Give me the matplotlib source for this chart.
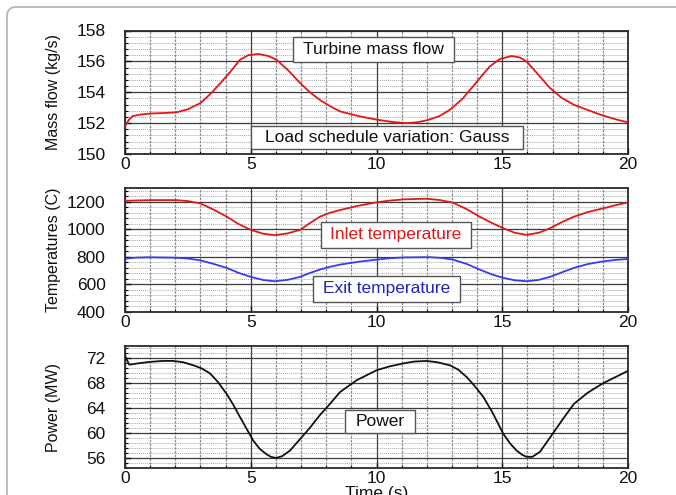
import matplotlib
matplotlib.use("Agg")
import matplotlib.pyplot as plt
from matplotlib.patches import Rectangle, FancyBboxPatch
from matplotlib.ticker import MultipleLocator, FixedLocator

plt.rcParams['font.family'] = ['Liberation Sans', 'DejaVu Sans']

# ---- data -------------------------------------------------------------
t_mass = [0, 0.15, 0.3, 0.6, 1.0, 1.5, 2.05, 2.5, 3.0, 3.4, 3.8, 4.2, 4.57, 4.9,
          5.3, 5.7, 6.03, 6.5, 6.96, 7.35, 7.75, 8.15, 8.55, 9.3, 10.0, 10.6,
          11.2, 11.6, 12.0, 12.5, 12.92, 13.4, 13.85, 14.2, 14.5, 14.9, 15.37,
          15.7, 15.97, 16.4, 16.9, 17.35, 17.85, 18.4, 18.9, 19.5, 20]
mass_flow = [151.8, 152.2, 152.45, 152.55, 152.62, 152.65, 152.7, 152.9, 153.3,
             153.9, 154.6, 155.35, 156.1, 156.4, 156.48, 156.35, 156.1, 155.4,
             154.6, 154.0, 153.5, 153.1, 152.76, 152.45, 152.23, 152.08, 152.0,
             152.05, 152.18, 152.45, 152.87, 153.55, 154.4, 155.1, 155.66,
             156.15, 156.35, 156.25, 155.99, 155.2, 154.27, 153.65, 153.19,
             152.85, 152.55, 152.25, 152.05]

t_inlet = [0, 1, 2.05, 2.5, 3, 3.5, 4.05, 4.5, 5, 5.5, 5.96, 6.45, 6.96, 7.35,
           7.75, 8.15, 8.55, 9.3, 10, 10.5, 11.06, 11.5, 11.99, 12.5, 13.05,
           13.6, 14.1, 14.6, 15.04, 15.5, 15.97, 16.45, 16.9, 17.4, 17.85, 18.4,
           19, 19.5, 20]
inlet_temp = [1207, 1212, 1212, 1205, 1188, 1145, 1092, 1040, 996, 968, 958,
              970, 996, 1045, 1092, 1120, 1140, 1172, 1196, 1208, 1217, 1220,
              1222, 1213, 1193, 1145, 1092, 1045, 1008, 975, 960, 975, 1008,
              1055, 1092, 1125, 1152, 1175, 1196]

t_exit = [0, 0.45, 1, 2.05, 2.5, 3, 3.5, 4.05, 4.5, 5, 5.5, 5.96, 6.45, 6.96,
          7.35, 7.75, 8.15, 8.55, 9.3, 10, 10.5, 11.06, 12.1, 12.6, 13.05,
          13.6, 14.1, 14.6, 15.04, 15.5, 15.97, 16.45, 16.9, 17.4, 17.85, 18.4,
          19, 19.5, 20]
exit_temp = [787, 795, 797, 794, 788, 775, 750, 720, 685, 655, 632, 623, 633,
             655, 683, 708, 728, 744, 765, 780, 790, 796, 798, 792, 780, 748,
             708, 672, 648, 630, 623, 633, 655, 690, 720, 748, 767, 778, 785]

t_power = [0, 0.17, 0.5, 1.0, 1.5, 1.92, 2.3, 2.72, 3.05, 3.38, 3.7, 4.04, 4.3,
           4.57, 4.85, 5.1, 5.35, 5.63, 5.8, 6.0, 6.25, 6.56, 6.95, 7.36, 7.75,
           8.15, 8.55, 9.21, 10.0, 10.5, 11.06, 11.5, 11.99, 12.4, 12.92,
           13.25, 13.59, 13.9, 14.25, 14.6, 15.04, 15.3, 15.57, 15.8, 15.97,
           16.2, 16.5, 16.9, 17.4, 17.85, 18.4, 19.0, 19.5, 20]
power = [72.4, 71.0, 71.2, 71.45, 71.6, 71.6, 71.4, 70.9, 70.4, 69.6, 68.2,
         66.3, 64.6, 62.6, 60.6, 58.8, 57.5, 56.6, 56.2, 56.0, 56.3, 57.2, 59.0,
         60.9, 62.9, 64.7, 66.6, 68.5, 70.1, 70.7, 71.2, 71.5, 71.6, 71.4, 70.9,
         70.2, 69.0, 67.6, 65.8, 63.4, 59.9, 58.4, 57.2, 56.5, 56.2, 56.2, 57.0,
         59.3, 62.2, 64.7, 66.5, 68.0, 69.0, 70.0]

x_ticks = [0, 5, 10, 15, 20]
mass_ticks = [150, 152, 154, 156, 158]
temp_ticks = [400, 600, 800, 1000, 1200]
power_ticks = [56, 60, 64, 68, 72]

# ---- figure -----------------------------------------------------------
W, H = 676, 495
fig = plt.figure(figsize=(W / 100, H / 100), dpi=100)
fig.patch.set_facecolor('white')

# rounded panel frame
frame = FancyBboxPatch((7, -30), 720, (H - 7) + 30,
                       boxstyle="round,pad=0,rounding_size=9",
                       transform=None, fc='none', ec='#b8b8b8', lw=1.3)
fig.add_artist(frame)


def px_axes(top, bottom, left=125, right=628):
    return [left / W, 1 - bottom / H, (right - left) / W, (bottom - top) / H]


ax1 = fig.add_axes(px_axes(30.5, 154))
ax2 = fig.add_axes(px_axes(188, 312))
ax3 = fig.add_axes(px_axes(346, 468))


def style(ax, yticks, yminor, ylim):
    ax.set_xlim(0, 20)
    ax.set_ylim(*ylim)
    ax.xaxis.set_major_locator(FixedLocator(x_ticks))
    ax.xaxis.set_minor_locator(MultipleLocator(1))
    ax.yaxis.set_major_locator(FixedLocator(yticks))
    ax.yaxis.set_minor_locator(MultipleLocator(yminor))
    ax.grid(which='major', axis='both', color='#3c3c3c', lw=0.9, ls='-')
    ax.grid(which='minor', axis='x', color='#8a8a8a', lw=0.9, ls=(0, (2, 1)))
    ax.grid(which='minor', axis='y', color='#a8a8a8', lw=0.7, ls=(0, (1, 1)))
    ax.set_axisbelow(True)
    for s in ax.spines.values():
        s.set_color('#2a2a2a')
        s.set_linewidth(1.3)
    ax.tick_params(which='major', direction='in', length=4, width=1,
                   labelsize=12.5, colors='#111')
    ax.tick_params(which='minor', direction='in', length=2.5, width=0.8)
    ax.tick_params(axis='y', which='major', pad=14)
    ax.tick_params(axis='x', which='major', pad=2)
    ax.set_xticklabels([str(v) for v in x_ticks])


def boxed_text(ax, box, text, color):
    # box given in figure pixels: left, top, right, bottom
    l, t, r, b = box
    inv = ax.transAxes.inverted()
    (x0, y0) = inv.transform((l, H - b))
    (x1, y1) = inv.transform((r, H - t))
    ax.add_patch(Rectangle((x0, y0), x1 - x0, y1 - y0, transform=ax.transAxes,
                           fc='white', ec='#555555', lw=1.0, zorder=4))
    ax.text((x0 + x1) / 2, (y0 + y1) / 2, text, transform=ax.transAxes,
            ha='center', va='center', fontsize=12.5, color=color, zorder=5)


style(ax1, mass_ticks, 0.4, (150, 158))
style(ax2, temp_ticks, 40, (400, 1300))
style(ax3, power_ticks, 0.8, (54.4, 74))

ax1.plot(t_mass, mass_flow, color='#e01818', lw=1.3, zorder=3)
ax2.plot(t_inlet, inlet_temp, color='#e01818', lw=1.3, zorder=3)
ax2.plot(t_exit, exit_temp, color='#3a3af0', lw=1.3, zorder=3)
ax3.plot(t_power, power, color='#111111', lw=1.3, zorder=3)

for ax, lab in [(ax1, 'Mass flow (kg/s)'), (ax2, 'Temperatures (C)'),
                (ax3, 'Power (MW)')]:
    ax.set_ylabel(lab, fontsize=11.5, color='#111')
    ax.yaxis.set_label_coords(-0.127, 0.5)

fig.canvas.draw()
boxed_text(ax1, (293, 37, 454, 62), 'Turbine mass flow', '#111111')
boxed_text(ax1, (251, 126, 523, 149), 'Load schedule variation: Gauss', '#111111')
boxed_text(ax2, (321, 222, 471, 248), 'Inlet temperature', '#e01818')
boxed_text(ax2, (313, 276, 460, 302), 'Exit temperature', '#2222c0')
boxed_text(ax3, (345, 410, 415, 433), 'Power', '#111111')

fig.text(376.5 / W, 1 - 486 / H, 'Time (s)', ha='center', va='top',
         fontsize=12.5, color='#111')

fig.savefig('out.png', dpi=100)
